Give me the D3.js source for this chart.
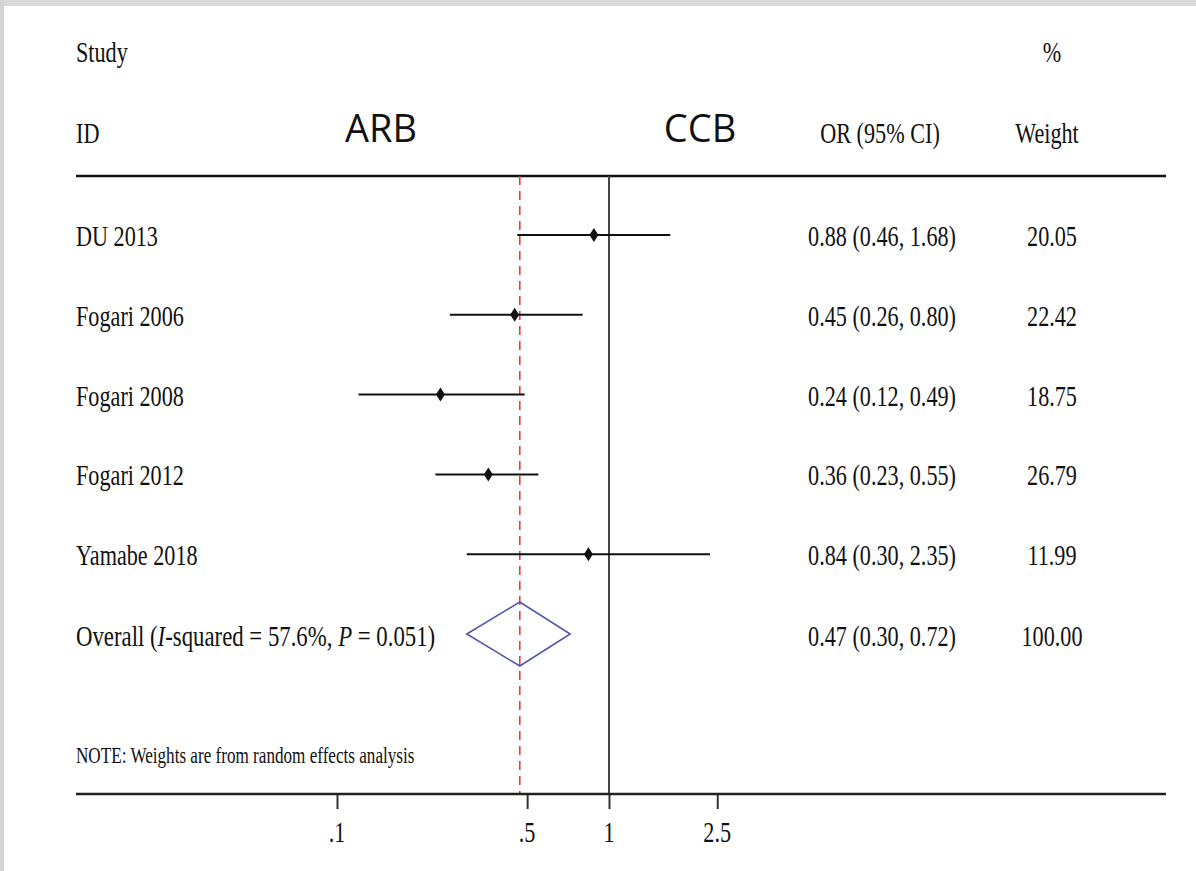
<!DOCTYPE html>
<html>
<head>
<meta charset="utf-8">
<script src="https://cdn.jsdelivr.net/npm/d3@7"></script>
<style>
  html, body { margin: 0; padding: 0; background: #fff; }
  svg { display: block; }
</style>
</head>
<body>
<div id="chart"></div>
<script>
// study data
var studies = ["DU 2013", "Fogari 2006", "Fogari 2008", "Fogari 2012", "Yamabe 2018"];
var or = [0.88, 0.45, 0.24, 0.36, 0.84];
var lo = [0.46, 0.26, 0.12, 0.23, 0.30];
var hi = [1.68, 0.80, 0.49, 0.55, 2.35];
var weights = ["20.05", "22.42", "18.75", "26.79", "11.99"];

// pooled estimate
var overallOR = 0.47, overallLo = 0.30, overallHi = 0.72;
var overallWeight = "100.00";

var tickVals = [0.1, 0.5, 1, 2.5];
var tickLabels = [".1", ".5", "1", "2.5"];

var W = 1196, H = 871;
var SERIF = "'Liberation Serif', 'Times New Roman', serif";
var SQUEEZE = 0.74; // condensed look of the original font

var svg = d3.select("#chart").append("svg")
    .attr("width", W)
    .attr("height", H);

// page frame (grey strips at top and left)
svg.append("rect").attr("x", 0).attr("y", 0).attr("width", W).attr("height", H).style("fill", "#fff");
svg.append("rect").attr("x", 0).attr("y", 0).attr("width", W).attr("height", 6).style("fill", "#d9d9d9");
svg.append("rect").attr("x", 0).attr("y", 0).attr("width", 4).attr("height", H).style("fill", "#d4d4d4");

var x = d3.scaleLog().domain([0.1, 1]).range([337, 609]);
var y = d3.scaleLinear().domain([0, 5]).range([235, 634]);

var xLeft = 76, xRight = 1166, yTop = 176, yBottom = 794;

// condensed serif text helper
function label(x0, y0, txt, anchor, size, squeeze) {
    var g = svg.append("g")
        .attr("transform", "translate(" + x0 + "," + y0 + ") scale(" + (squeeze || SQUEEZE) + ",1)");
    var t = g.append("text")
        .attr("x", 0)
        .attr("y", 0)
        .attr("text-anchor", anchor || "start")
        .style("font-family", SERIF)
        .style("font-size", (size || 30) + "px")
        .style("fill", "#111");
    return t.text(txt);
}

// headers
label(xLeft, 62, "Study");
label(1052, 62, "%", "middle");
label(xLeft, 143, "ID");
label(880, 143, "OR (95% CI)", "middle");
label(1047, 143, "Weight", "middle");

svg.append("text")
    .attr("x", 381).attr("y", 142)
    .attr("text-anchor", "middle")
    .style("font-family", "'Open Sans', sans-serif")
    .style("font-size", "38px")
    .style("fill", "#111")
    .text("ARB");
svg.append("text")
    .attr("x", 700).attr("y", 142)
    .attr("text-anchor", "middle")
    .style("font-family", "'Open Sans', sans-serif")
    .style("font-size", "38px")
    .style("fill", "#111")
    .text("CCB");

// top rule
svg.append("line")
    .attr("x1", xLeft).attr("x2", xRight)
    .attr("y1", yTop).attr("y2", yTop)
    .style("stroke", "#111").style("stroke-width", 2.5);

// null line at OR = 1
svg.append("line")
    .attr("x1", x(1)).attr("x2", x(1))
    .attr("y1", yTop).attr("y2", yBottom)
    .style("stroke", "#444").style("stroke-width", 2);

// pooled estimate line
svg.append("line")
    .attr("x1", x(overallOR)).attr("x2", x(overallOR))
    .attr("y1", yTop).attr("y2", yBottom)
    .style("stroke", "#e8332a").style("stroke-width", 1.5)
    .style("stroke-dasharray", "9,6");

// study rows
var rows = svg.selectAll("g.study")
    .data(studies)
    .enter().append("g")
    .attr("class", "study");

rows.append("line")
    .attr("x1", function (d, i) { return x(lo[i]); })
    .attr("x2", function (d, i) { return x(hi[i]); })
    .attr("y1", function (d, i) { return y(i); })
    .attr("y2", function (d, i) { return y(i); })
    .style("stroke", "#111").style("stroke-width", 2);

rows.append("path")
    .attr("d", function (d, i) {
        var cx = x(or[i]), cy = y(i);
        return "M" + cx + "," + (cy - 7) + "L" + (cx + 4.5) + "," + cy +
            "L" + cx + "," + (cy + 7) + "L" + (cx - 4.5) + "," + cy + "Z";
    })
    .style("fill", "#111");

studies.forEach(function (s, i) {
    label(xLeft, y(i) + 11, s);
    label(882, y(i) + 11, or[i].toFixed(2) + " (" + lo[i].toFixed(2) + ", " + hi[i].toFixed(2) + ")", "middle");
    label(1052, y(i) + 11, weights[i], "middle");
});

// overall row
var oy = y(5);
svg.append("path")
    .attr("d", "M" + x(overallLo) + "," + oy +
        "L" + x(overallOR) + "," + (oy - 32) +
        "L" + x(overallHi) + "," + oy +
        "L" + x(overallOR) + "," + (oy + 32) + "Z")
    .style("fill", "none")
    .style("stroke", "#5457b0")
    .style("stroke-width", 1.6);

var ot = label(xLeft, oy + 12, "Overall (", "start", 30, 0.76);
ot.append("tspan").style("font-style", "italic").text("I");
ot.append("tspan").text("-squared = 57.6%, ");
ot.append("tspan").style("font-style", "italic").text("P");
ot.append("tspan").text(" = 0.051)");

label(882, oy + 12, overallOR.toFixed(2) + " (" + overallLo.toFixed(2) + ", " + overallHi.toFixed(2) + ")", "middle");
label(1052, oy + 12, overallWeight, "middle");

label(xLeft, 763, "NOTE: Weights are from random effects analysis", "start", 23, 0.745);

// x axis
var axis = d3.axisBottom(x)
    .tickValues(tickVals)
    .tickSize(15)
    .tickSizeOuter(0)
    .tickFormat(function (d, i) { return tickLabels[i]; });

var ax = svg.append("g")
    .attr("transform", "translate(0," + yBottom + ")")
    .call(axis);

ax.select(".domain").remove();
ax.selectAll(".tick line").style("stroke", "#333").style("stroke-width", 2);
ax.selectAll(".tick text").remove();

svg.append("line")
    .attr("x1", xLeft).attr("x2", xRight)
    .attr("y1", yBottom).attr("y2", yBottom)
    .style("stroke", "#222").style("stroke-width", 2.5);

tickVals.forEach(function (v, i) {
    label(x(v), 842, tickLabels[i], "middle");
});
</script>
</body>
</html>
